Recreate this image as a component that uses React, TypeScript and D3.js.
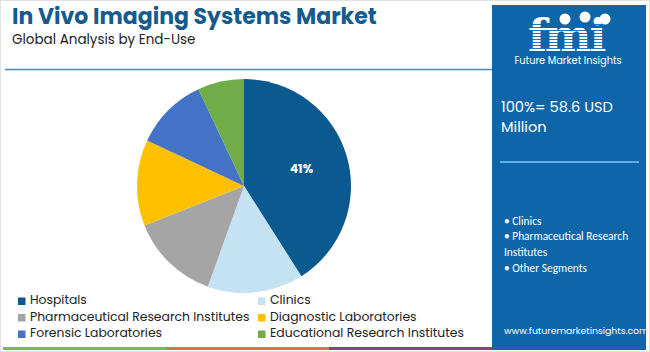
import React from "react";
import * as d3 from "d3";

const categories = [
  "Hospitals",
  "Clinics",
  "Pharmaceutical Research Institutes",
  "Diagnostic Laboratories",
  "Forensic Laboratories",
  "Educational Research Institutes",
];
const values = [41, 14.5, 13.5, 13, 11, 7];
const colors = ["#0b5a8f", "#c5e2f2", "#a5a5a5", "#ffc000", "#4472c4", "#70ad47"];
const shownLabels = ["41%", "", "", "", "", ""];
const panelBullets = ["• Clinics", "• Pharmaceutical Research", "Institutes", "• Other Segments"];

export default function App() {
  const W = 650, H = 352;
  const cx = 244, cy = 186, r = 107;
  const pie = d3.pie<number>().sort(null).value((d) => d);
  const arcs = pie(values);
  const arc = d3.arc<d3.PieArcDatum<number>>().innerRadius(0).outerRadius(r);
  const labelArc = d3.arc<d3.PieArcDatum<number>>().innerRadius(r * 0.56).outerRadius(r * 0.56);

  const legendX = d3.scaleOrdinal<number, number>().domain([0, 1]).range([18, 258]);
  const legendY = d3.scaleLinear().domain([0, 2]).range([301, 334]);

  const font = "Poppins, 'Open Sans', Lato, sans-serif";
  const panelColor = "#0e66a8";

  const stripes = d3.range(24, 54, 3);

  return (
    <svg width={W} height={H} style={{ position: "absolute", left: 0, top: 0 }}>
      <rect x={0} y={0} width={W} height={H} fill="#fff" />
      <rect x={0.5} y={0.5} width={W - 1} height={H - 1} fill="none" stroke="#e2e2e2" />
      <text x={12} y={24} fontFamily={font} fontWeight={700} fontSize={22} fill="#165b8c">
        In Vivo Imaging Systems Market
      </text>
      <text x={12} y={44} fontFamily={font} fontSize={13.5} fill="#222">
        Global Analysis by End-Use
      </text>
      <line x1={5} x2={492} y1={69.5} y2={69.5} stroke="#4a86b4" strokeWidth={1.6} />

      <g transform={`translate(${cx},${cy})`}>
        {arcs.map((a, i) => (
          <path key={categories[i]} d={arc(a) || ""} fill={colors[i]} />
        ))}
        {arcs.map((a, i) =>
          shownLabels[i] ? (
            <text
              key={"l" + i}
              x={labelArc.centroid(a)[0]}
              y={labelArc.centroid(a)[1]}
              textAnchor="middle"
              dominantBaseline="middle"
              fontFamily={font}
              fontWeight={700}
              fontSize={12}
              fill="#fff"
            >
              {shownLabels[i]}
            </text>
          ) : null
        )}
      </g>

      {categories.map((c, i) => {
        const col = i % 2;
        const row = Math.floor(i / 2);
        const x = legendX(col);
        const y = legendY(row);
        return (
          <g key={"lg" + i}>
            <rect x={x} y={y - 3.5} width={7.5} height={7.5} fill={colors[i]} />
            <text x={x + 12} y={y} dominantBaseline="middle" fontFamily={font} fontSize={12.4} fill="#222">
              {c}
            </text>
          </g>
        );
      })}

      <rect x={3} y={347} width={164} height={3} fill="#7dba43" />
      <rect x={167} y={347} width={162} height={3} fill="#e8703a" />
      <rect x={329} y={347} width={165} height={3} fill="#8e3a96" />

      <rect x={492} y={5} width={154} height={345} fill={panelColor} />
      <g>
        <text x={566} y={51} textAnchor="middle" fontFamily="'DejaVu Serif', serif" fontWeight={700} fontSize={44} fill="#fff" letterSpacing={-2}>
          fmi
        </text>
        {stripes.map((s) => (
          <rect key={"s" + s} x={510} y={s} width={115} height={0.9} fill={panelColor} />
        ))}
        <circle cx={565} cy={19} r={5.5} fill="#fff" />
        <circle cx={585} cy={17} r={5.5} fill="#fff" />
        <circle cx={605} cy={19} r={5.5} fill="#fff" />
        <text x={568} y={64} textAnchor="middle" fontFamily={font} fontSize={9.8} fill="#fff">
          Future Market Insights
        </text>
      </g>
      <text x={501} y={112} fontFamily={font} fontSize={14.6} fill="#fff">100%= 58.6 USD</text>
      <text x={501} y={132} fontFamily={font} fontSize={14.6} fill="#fff">Million</text>
      <line x1={500} x2={639} y1={162} y2={162} stroke="#5cb0e2" strokeWidth={2} />
      {panelBullets.map((b, i) => (
        <text
          key={"b" + i}
          x={504}
          y={222 + i * 15.5 + (i >= 3 ? 1 : 0)}
          dominantBaseline="middle"
          fontFamily="Carlito, 'Open Sans', sans-serif"
          fontSize={11.4}
          fill="#fff"
        >
          {b}
        </text>
      ))}
      <text x={504} y={334} fontFamily={font} fontSize={9.3} fill="#fff">
        www.futuremarketinsights.com
      </text>
    </svg>
  );
}
